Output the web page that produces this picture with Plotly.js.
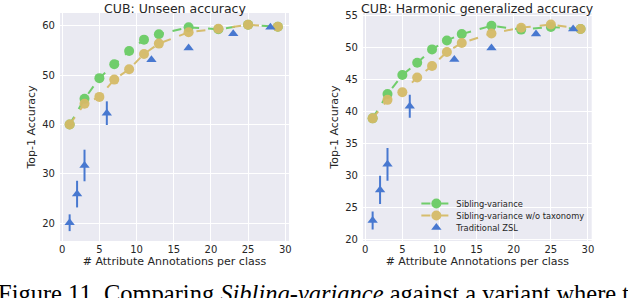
<!DOCTYPE html>
<html><head><meta charset="utf-8">
<script src="https://cdn.plot.ly/plotly-3.0.1.min.js"></script>
<style>html,body{margin:0;padding:0;background:#fff}#g{width:628px;height:298px}</style>
</head><body><div id="g"></div>
<script>
// shared x values
const xSib = [1, 3, 5, 7, 9, 11, 13, 17, 21, 25, 29];
const xZsl = [1, 2, 3, 6, 12, 17, 23, 28];

// CUB: Unseen accuracy
const unseenSib = [40.0, 45.2, 49.4, 52.2, 54.9, 57.2, 58.3, 59.7, 59.3, 60.2, 59.8];
const unseenNoTax = [40.0, 44.2, 45.6, 49.1, 51.2, 54.3, 56.4, 58.7, 59.4, 60.2, 59.8];
const unseenZsl = [20.1, 25.9, 31.7, 42.3, 53.1, 55.5, 58.4, 59.7];
const unseenZslErr = [1.7, 2.7, 3.2, 2.4, 0, 0, 0, 0];

// CUB: Harmonic generalized accuracy
const harmSib = [38.9, 42.7, 45.7, 47.6, 49.7, 51.1, 52.1, 53.4, 52.8, 53.2, 52.9];
const harmNoTax = [38.9, 41.8, 43.0, 45.3, 47.1, 49.3, 50.7, 52.2, 53.1, 53.6, 52.9];
const harmZsl = [22.9, 27.7, 31.7, 40.8, 48.1, 49.9, 52.1, 52.9];
const harmZslErr = [1.4, 2.2, 2.55, 1.8, 0, 0, 0, 0];

const names = ['Sibling-variance', 'Sibling-variance w/o taxonomy', 'Traditional ZSL'];
const xTicks = [0, 5, 10, 15, 20, 25, 30];
const GREEN = '#6acc64', YEL = '#d5bb67', BLUE = '#4878d0';

function series(xa, ya, sib, notax, zsl, zerr, show) {
  return [
    {x: xSib, y: sib, xaxis: xa, yaxis: ya, name: names[0], showlegend: show, legend: 'legend',
     mode: 'lines+markers', line: {color: GREEN, width: 2, dash: 'dash'},
     marker: {color: GREEN, size: 10}, opacity: 0.95},
    {x: xSib, y: notax, xaxis: xa, yaxis: ya, name: names[1], showlegend: show, legend: 'legend2',
     mode: 'lines+markers', line: {color: YEL, width: 2, dash: 'dash'},
     marker: {color: YEL, size: 10}, opacity: 0.95},
    {x: xZsl, y: zsl, xaxis: xa, yaxis: ya, name: names[2], showlegend: show, legend: 'legend3',
     mode: 'markers', marker: {color: BLUE, size: 9, symbol: 'triangle-up'},
     error_y: {type: 'data', array: zerr, visible: true, color: BLUE, thickness: 2, width: 0}}
  ];
}

const data = [].concat(
  series('x', 'y', unseenSib, unseenNoTax, unseenZsl, unseenZslErr, false),
  series('x2', 'y2', harmSib, harmNoTax, harmZsl, harmZslErr, true)
);

const FONT = 'DejaVu Sans, sans-serif';
const TXT = '#262626';
function xax(dom, anchor) {
  return {domain: dom, anchor: anchor, range: [-0.3, 30.5], tickvals: xTicks,
    showgrid: true, gridcolor: '#ffffff', gridwidth: 1, zeroline: false, showline: false,
    ticks: '', ticklabelstandoff: 1, tickfont: {family: FONT, size: 10, color: TXT},
    title: {text: '# Attribute Annotations per class', font: {family: FONT, size: 11, color: TXT}, standoff: 0}};
}
function yax(range, dtick, anchor) {
  return {domain: [0.1913, 0.9564], anchor: anchor, range: range, dtick: dtick,
    showgrid: true, gridcolor: '#ffffff', gridwidth: 1, zeroline: false, showline: false,
    ticks: '', ticklabelstandoff: 4, tickfont: {family: FONT, size: 10, color: TXT},
    title: {text: 'Top-1 Accuracy', font: {family: FONT, size: 11, color: TXT}, standoff: 4}};
}
function leg(y) {
  return {x: 0.663, y: y, xanchor: 'left', yanchor: 'top', bgcolor: 'rgba(0,0,0,0)',
    font: {family: FONT, size: 8.3, color: TXT}, itemwidth: 30};
}

const layout = {
  width: 628, height: 298, margin: {l: 0, r: 0, t: 0, b: 0},
  paper_bgcolor: '#ffffff', plot_bgcolor: '#eaeaf2',
  font: {family: FONT, color: TXT},
  xaxis: xax([0.0955, 0.4602], 'y'),
  yaxis: yax([16.4, 62.6], 10, 'x'),
  xaxis2: xax([0.578, 0.9422], 'y2'),
  yaxis2: yax([19.7, 55.4], 5, 'x2'),
  showlegend: true,
  legend: leg(0.366),
  legend2: leg(0.3255),
  legend3: leg(0.285),
  annotations: [
    {text: 'CUB: Unseen accuracy', xref: 'paper', yref: 'paper', x: 0.2779, y: 1.004, xanchor: 'center', yanchor: 'top',
     showarrow: false, font: {family: FONT, size: 12.5, color: TXT}},
    {text: 'CUB: Harmonic generalized accuracy', xref: 'paper', yref: 'paper', x: 0.760, y: 1.004, xanchor: 'center', yanchor: 'top',
     showarrow: false, font: {family: FONT, size: 12.5, color: TXT}},
    {text: 'Figure 11. Comparing <i>Sibling-variance</i> against a variant where t', xref: 'paper', yref: 'paper',
     x: -0.006, y: 0.068, xanchor: 'left', yanchor: 'top', showarrow: false,
     font: {family: 'Liberation Serif, serif', size: 24.5, color: '#000'}}
  ]
};

Plotly.newPlot('g', data, layout, {displayModeBar: false, staticPlot: true});
</script>
</body></html>
